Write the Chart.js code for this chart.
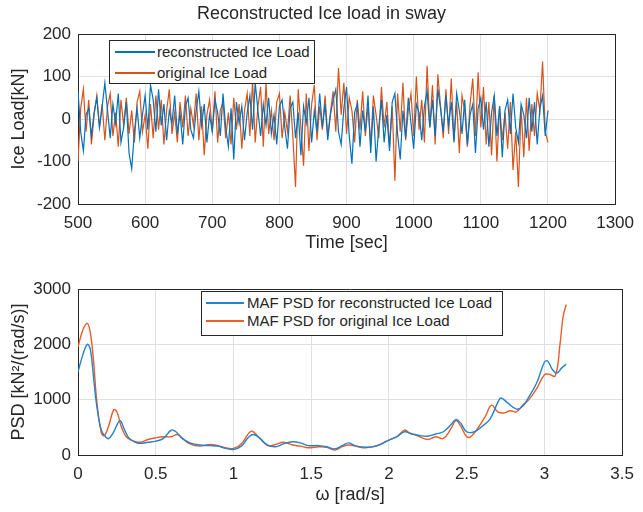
<!DOCTYPE html>
<html>
<head>
  <meta charset="UTF-8">
  <title>Reconstructed Ice load in sway</title>
  <script src="https://cdn.jsdelivr.net/npm/chart.js"></script>
  <style>
    body {
      margin: 0;
      background: #fff;
      font-family: "Liberation Sans", Arial, sans-serif;
    }
    .panel {
      position: absolute;
      left: 0;
      width: 643px;
    }
    #top-panel { top: 0; height: 260px; }
    #psd-panel { top: 260px; height: 252px; }
    .legend {
      position: absolute;
      background: #fff;
      border: 1px solid #262626;
      font-size: 15px;
      color: #262626;
      z-index: 2;
    }
    .legend .row {
      position: absolute;
      left: 0;
      height: 18px;
      line-height: 18px;
      white-space: nowrap;
    }
    .legend .swatch {
      position: absolute;
      top: 8px;
      height: 2px;
    }
    .legend .label { position: absolute; top: 0; }
  </style>
</head>
<body>
  <div class="panel" id="top-panel"><canvas id="loadChart"></canvas></div>
  <div class="panel" id="psd-panel"><canvas id="psdChart"></canvas></div>

  <div class="legend" style="left:109px; top:40px; width:204px; height:42px;">
    <div class="row" style="top:2px;"><div class="swatch" style="left:5px; width:40px; background:#0072BD;"></div><span class="label" style="left:47px;">reconstructed Ice Load</span></div>
    <div class="row" style="top:23px;"><div class="swatch" style="left:5px; width:40px; background:#D95319;"></div><span class="label" style="left:47px;">original Ice Load</span></div>
  </div>

  <div class="legend" style="left:201px; top:291px; width:300px; height:43px;">
    <div class="row" style="top:2px;"><div class="swatch" style="left:4px; width:38px; height:1.5px; background:#2383cc;"></div><span class="label" style="left:45px;">MAF PSD for reconstructed Ice Load</span></div>
    <div class="row" style="top:20px;"><div class="swatch" style="left:4px; width:38px; height:1.5px; background:#ea5c28;"></div><span class="label" style="left:45px;">MAF PSD for original Ice Load</span></div>
  </div>

  <script>
    // ice load samples, one every 4 s from 500 s to 1200 s
    const startTime = 500;
    const sampleStep = 4;

    const reconstructedLoad = [
      65, -30, -75, 10, 25, -40, 15, 50, -20, 30,
      85, 20, -45, 35, -10, 60, -55, -20, 40, -80,
      -117, -30, 25, -45, 10, 55, -25, 80, 45, -30,
      70, -15, 35, -50, 20, -10, 55, -35, 15, -60,
      30, 50, -25, -45, 20, 65, -15, 35, -55, 10,
      -30, 45, 15, -40, 60, -20, -65, 25, -95, 40,
      -10, 30, -50, 15, 55, -25, 85, 20, -40, 35,
      -15, 50, -35, 10, -60, 30, 45, -20, -70, 25,
      40, -45, 15, -85, 30, -10, 50, -55, 20, -30,
      60, -20, 35, -50, 10, 45, 70, -30, -60, 25,
      75, -40, -105, 15, 35, -65, 20, -30, 55, -80,
      30, -100, -20, 45, -55, 10, -75, 40, 60, -35,
      -95, 20, -45, 50, -10, -70, 35, 15, -50, 30,
      65, -20, 45, -40, 70, 25, -30, 55, -15, 40,
      -55, 60, 20, -35, 45, -60, 10, 35, -80, 25,
      50, -25, 40, -65, 15, 55, -40, 30, -90, 20,
      45, -35, 60, -20, -55, 35, 10, -45, 50, -30,
      40, -60, 25, 55, -40,
      20
    ];

    const originalLoad = [
      -100, 25, 70, -30, 45, -60, 10, 55, -20, 35,
      -50, 30, 60, -40, 15, -65, 45, -15, 50, -35,
      20, -55, 40, 65, -30, 10, -70, 35, -45, 55,
      -25, 45, -60, 20, 70, -35, 15, -55, 40, -20,
      55, -40, 25, -15, 60, -50, 30, -85, 10, 45,
      -30, 65, -55, 20, 40, -45, 15, -60, 50, -25,
      35, -70, 20, 60, -40, 90, -55, 30, 75, -65,
      85, -35, 20, -50, 40, 60, -45, 15, -30, 55,
      -40, -160, 70, -20, -110, 60, -75, 35, 80, -50,
      30, -25, 55, -40, 15, 65, -30, 120, 10, 85,
      -35, 50, 20, -55, 45, -25, 65, -40, 30, -60,
      55, 10, -45, 75, -20, 40, -65, 30, -145, 60,
      -30, 85, -50, 20, 60, -40, 100, -25, 45, -55,
      125, -20, 80, -60, 105, 30, -45, 70, -35, 95,
      -50, 40, -80, 55, 20, -65, 35, 95, -40, 110,
      -20, 75, -60, 40, -85, 55, -100, 30, -50, 15,
      -70, 40, -120, -30, -160, 25, -90, 50, -75, 35,
      -40, 60, 20, 135, -30,
      -55
    ];

    // MAF PSD curves
    const psdRecOmega = [0, 0.03, 0.06, 0.08, 0.10, 0.12, 0.15, 0.18, 0.20, 0.23, 0.27, 0.30, 0.33, 0.37, 0.40, 0.45, 0.50, 0.55, 0.60, 0.63, 0.67, 0.72, 0.78, 0.85, 0.90, 0.95, 1.00, 1.05, 1.10, 1.13, 1.17, 1.22, 1.27, 1.32, 1.38, 1.43, 1.48, 1.55, 1.60, 1.65, 1.70, 1.74, 1.78, 1.85, 1.92, 2.00, 2.05, 2.10, 2.15, 2.20, 2.25, 2.30, 2.35, 2.40, 2.43, 2.46, 2.50, 2.55, 2.60, 2.65, 2.70, 2.72, 2.76, 2.82, 2.86, 2.90, 2.95, 3.00, 3.02, 3.05, 3.08, 3.11, 3.14];
    const psdRecValue = [1500, 1800, 2000, 1900, 1400, 900, 450, 320, 300, 420, 620, 450, 300, 230, 210, 230, 250, 300, 450, 420, 300, 220, 180, 170, 160, 120, 100, 160, 330, 370, 300, 180, 150, 200, 240, 220, 170, 170, 150, 110, 170, 220, 170, 140, 160, 270, 330, 420, 380, 350, 340, 380, 420, 550, 640, 580, 420, 420, 520, 650, 950, 1030, 950, 830, 880, 1050, 1300, 1680, 1700, 1550, 1480, 1570, 1640];

    const psdOrigOmega = [0, 0.03, 0.06, 0.08, 0.10, 0.12, 0.15, 0.17, 0.20, 0.23, 0.25, 0.28, 0.31, 0.35, 0.40, 0.45, 0.50, 0.55, 0.60, 0.64, 0.68, 0.72, 0.78, 0.85, 0.90, 0.95, 1.00, 1.05, 1.10, 1.12, 1.16, 1.22, 1.27, 1.32, 1.38, 1.43, 1.48, 1.55, 1.60, 1.65, 1.70, 1.74, 1.80, 1.85, 1.92, 2.00, 2.05, 2.10, 2.13, 2.18, 2.25, 2.30, 2.35, 2.40, 2.43, 2.46, 2.50, 2.53, 2.58, 2.62, 2.66, 2.70, 2.74, 2.78, 2.82, 2.86, 2.90, 2.95, 3.00, 3.03, 3.07, 3.10, 3.12, 3.14];
    const psdOrigValue = [1950, 2250, 2380, 2200, 1700, 1000, 400, 350, 550, 820, 780, 500, 330, 260, 230, 280, 310, 330, 330, 370, 280, 200, 160, 190, 170, 130, 120, 200, 400, 430, 330, 170, 190, 230, 180, 160, 130, 150, 140, 90, 150, 180, 150, 130, 170, 270, 330, 450, 400, 350, 280, 330, 300, 480, 620, 530, 330, 340, 520, 700, 900, 780, 760, 800, 780, 900, 1000, 1200, 1450, 1460, 1430, 2000, 2500, 2720];

    const tickColor = "#262626";
    const gridColor = "#e0e0e0";
    const fontFamily = "'Liberation Sans', Arial, sans-serif";

    function toPoints(xs, ys) {
      return ys.map((y, i) => ({ x: xs[i], y: y }));
    }

    const plainTick = v => String(Number(v.toFixed(2)));

    const loadTimes = reconstructedLoad.map((_, i) => startTime + i * sampleStep);

    // frame axes (top / right) so the plot gets a closed box like MATLAB
    function frameAxis(position, size) {
      return {
        position: position,
        display: true,
        min: 0,
        max: 1,
        ticks: { display: false },
        grid: { display: false, drawTicks: false },
        border: { display: true, color: tickColor, width: 1 },
        afterFit: s => {
          if (position === "top") s.height = size; else s.width = size;
        }
      };
    }

    function makeAxes(opt) {
      return {
        x: {
          type: "linear",
          min: opt.xMin,
          max: opt.xMax,
          ticks: {
            stepSize: opt.xStep,
            color: tickColor,
            padding: 9,
            maxRotation: 0,
            callback: plainTick,
            font: { family: fontFamily, size: 17 }
          },
          grid: { color: gridColor, drawTicks: false },
          border: { color: tickColor, width: 1 },
          title: {
            display: true,
            text: opt.xTitle,
            color: tickColor,
            padding: { top: 0, bottom: 6 },
            font: { family: fontFamily, size: 18 }
          },
          afterFit: s => { s.height = opt.xHeight; }
        },
        y: {
          min: opt.yMin,
          max: opt.yMax,
          ticks: {
            stepSize: opt.yStep,
            color: tickColor,
            padding: 7,
            callback: plainTick,
            font: { family: fontFamily, size: 17 }
          },
          grid: { color: gridColor, drawTicks: false },
          border: { color: tickColor, width: 1 },
          title: {
            display: true,
            text: opt.yTitle,
            color: tickColor,
            padding: { top: 8, bottom: 0 },
            font: { family: fontFamily, size: 18 }
          },
          afterFit: s => { s.width = 78; }
        },
        x2: frameAxis("top", opt.topHeight),
        y2: frameAxis("right", 20)
      };
    }

    new Chart(document.getElementById("loadChart"), {
      type: "line",
      data: {
        datasets: [
          {
            label: "reconstructed Ice Load",
            data: toPoints(loadTimes, reconstructedLoad),
            borderColor: "#0072BD",
            borderWidth: 1.2,
            pointRadius: 0,
            tension: 0
          },
          {
            label: "original Ice Load",
            data: toPoints(loadTimes, originalLoad),
            borderColor: "#D95319",
            borderWidth: 1.2,
            pointRadius: 0,
            tension: 0
          }
        ]
      },
      options: {
        responsive: true,
        maintainAspectRatio: false,
        animation: false,
        layout: { padding: 0 },
        plugins: {
          legend: { display: false },
          tooltip: { enabled: false },
          title: {
            display: true,
            text: "Reconstructed Ice load in sway",
            color: tickColor,
            padding: { top: 3, bottom: 0 },
            font: { family: fontFamily, size: 18, weight: "normal" }
          }
        },
        scales: makeAxes({
          xMin: 500, xMax: 1300, xStep: 100, xTitle: "Time [sec]", xHeight: 56,
          yMin: -200, yMax: 200, yStep: 100, yTitle: "Ice Load[kN]",
          topHeight: 9.4
        })
      }
    });

    new Chart(document.getElementById("psdChart"), {
      type: "line",
      data: {
        datasets: [
          {
            label: "MAF PSD for reconstructed Ice Load",
            data: toPoints(psdRecOmega, psdRecValue),
            borderColor: "#2383cc",
            borderWidth: 1.4,
            pointRadius: 0,
            tension: 0.4
          },
          {
            label: "MAF PSD for original Ice Load",
            data: toPoints(psdOrigOmega, psdOrigValue),
            borderColor: "#ea5c28",
            borderWidth: 1.4,
            pointRadius: 0,
            tension: 0.4
          }
        ]
      },
      options: {
        responsive: true,
        maintainAspectRatio: false,
        animation: false,
        layout: { padding: 0 },
        plugins: {
          legend: { display: false },
          tooltip: { enabled: false }
        },
        scales: makeAxes({
          xMin: 0, xMax: 3.5, xStep: 0.5, xTitle: "ω [rad/s]", xHeight: 57,
          yMin: 0, yMax: 3000, yStep: 1000, yTitle: "PSD [kN²/(rad/s)]",
          topHeight: 29
        })
      }
    });
  </script>
</body>
</html>
